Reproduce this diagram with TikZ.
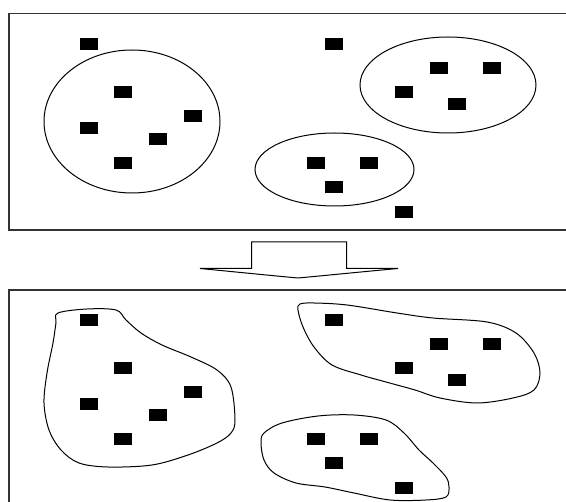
\documentclass[tikz,border=0pt]{standalone}
\begin{document}
\begin{tikzpicture}[x=1pt,y=-1pt,
  frame/.style={draw=black!80,line width=1.3pt},
  ring/.style={draw=black,line width=1pt},
  dot/.style={fill=black,draw=none,minimum width=18pt,minimum height=12.5pt,inner sep=0pt,outer sep=0pt},
  blob/.style={draw=black,line width=1pt,smooth cycle,tension=0.55}]
\useasboundingbox (0,0) rectangle (566,502);
\clip (0,0) rectangle (566,502);
\fill[white] (0,0) rectangle (566,502);
% frames
\draw[frame] (9,13.5) rectangle (580,230);
\draw[frame] (9,290) rectangle (580,520);
% top panel clusters
\draw[ring] (132,121.5) ellipse [x radius=88, y radius=71.5];
\draw[ring] (448,85) ellipse [x radius=88, y radius=48];
\draw[ring] (334.5,169.5) ellipse [x radius=79.5, y radius=36.5];
% top panel squares
\foreach \n/\px/\py in {a/89/44, b/123/92, c/89/128, d/193/116, e/158/139, f/123/163,
  g/334/44, h/439/68, i/492/68, j/404/92, k/457/104, l/316/163, m/369/163, n/334/187, o/404/212}
  {\node[dot] (t\n) at (\px,\py) {};}
% arrow
\draw[line width=1pt,fill=white] (251.7,242) -- (346.7,242) -- (346.7,268.5) -- (398,268.5)
  .. controls (360,272) and (320,276) .. (298,278)
  .. controls (276,276) and (236,272) .. (200,268.5) -- (251.7,268.5) -- cycle;
% bottom panel blobs
\draw[blob] plot coordinates {(58,313) (87,309) (116,310) (126,320) (141,333) (162,345) (191,357) (217,370) (231,387) (235,420) (231,433) (217,443) (188,455) (152,465) (108,467) (79,463) (61,450) (49,430) (44,403) (47,373) (53,343) (56,323)};
\draw[blob] plot coordinates {(300,304) (314,303) (347,305) (397,313) (433,318) (487,322) (516,333) (534,353) (540,373) (534,390) (513,398) (477,403) (440,398) (415,390) (386,382) (361,375) (332,365) (314,347) (303,327) (298,310)};
\draw[blob] plot coordinates {(264,433) (282,423) (318,416) (354,415) (386,420) (404,433) (419,450) (433,463) (446,477) (449,487) (446,497) (426,500) (390,500) (354,493) (325,487) (296,483) (274,473) (264,460) (261,443)};
% bottom panel squares
\foreach \n/\px/\py in {a/89/44, b/123/92, c/89/128, d/193/116, e/158/139, f/123/163,
  g/334/44, h/439/68, i/492/68, j/404/92, k/457/104, l/316/163, m/369/163, n/334/187, o/404/212}
  {\node[dot] (b\n) at (\px,\py+276) {};}
\end{tikzpicture}
\end{document}
